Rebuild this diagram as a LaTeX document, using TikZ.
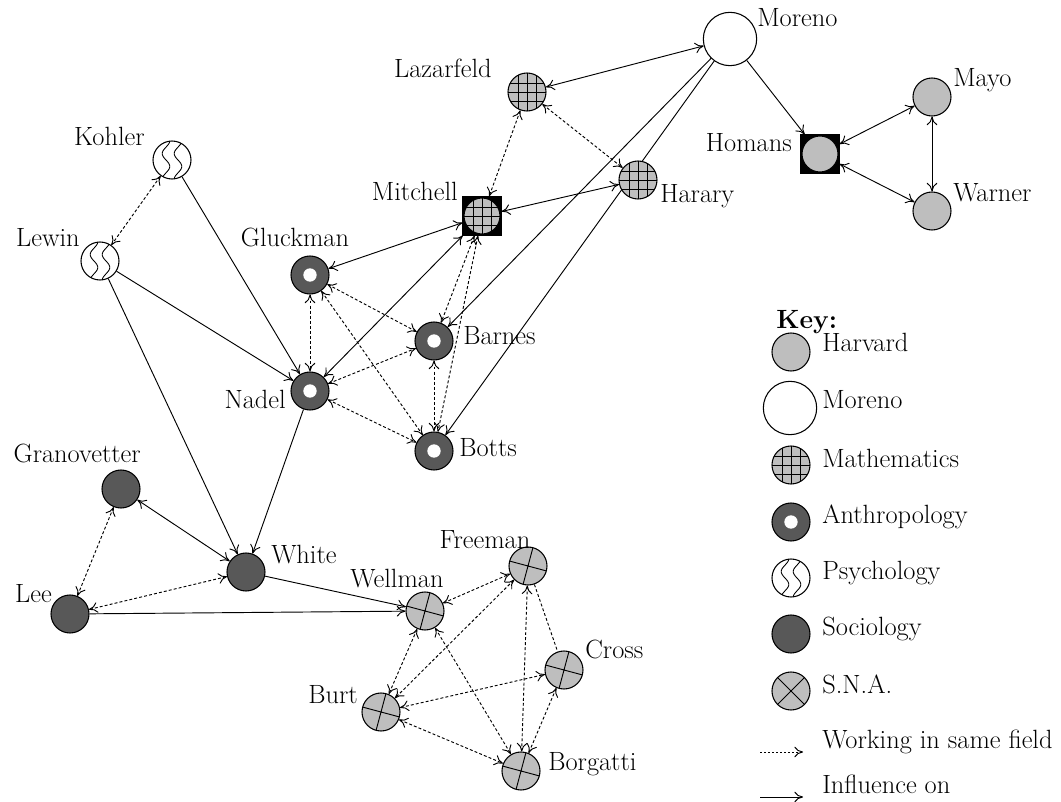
\documentclass[tikz,border=0pt]{standalone}
\usetikzlibrary{arrows.meta,backgrounds}
\definecolor{hv}{RGB}{190,190,190}
\definecolor{dk}{RGB}{88,88,88}
\begin{document}
\begin{tikzpicture}[x=0.75pt,y=-0.75pt,
  every node/.style={font=\fontsize{19.8}{22}\selectfont},
  ah/.tip={Computer Modern Rightarrow[length=6.5pt,width=8pt]},
  base/.style={circle,draw=black,line width=0.8pt,minimum size=28.5pt,inner sep=0pt},
  harvard/.style={base,fill=hv},
  morenost/.style={base,fill=white,minimum size=40pt},
  math/.style={base,fill=hv,path picture={
     \draw[line width=0.7pt,shift={(path picture bounding box.center)}]
       (-9,-20)--(-9,20) (0,-20)--(0,20) (9,-20)--(9,20)
       (-20,-9)--(20,-9) (-20,0)--(20,0) (-20,9)--(20,9);}},
  anthro/.style={base,fill=dk,path picture={
     \fill[white,shift={(path picture bounding box.center)}] (0,0) circle (5pt);}},
  psych/.style={base,fill=white,path picture={
     \draw[line width=0.65pt,shift={(path picture bounding box.center)}]
       plot[smooth,domain=-20:20,samples=30] ({-6+3.8*sin(\x*14)},{\x})
       plot[smooth,domain=-20:20,samples=30] ({6+3.8*sin(\x*14)},{\x});}},
  socio/.style={base,fill=dk},
  sna/.style={base,fill=hv,path picture={
     \draw[line width=0.7pt]
       (path picture bounding box.center) ++(#1:22) -- ++({#1+180}:44)
       (path picture bounding box.center) ++({#1+90}:22) -- ++({#1+270}:44);}},
  sna/.default=15,
  sq/.style={rectangle,fill=black,draw=black,minimum size=29pt,inner sep=0pt},
  inf/.style={line width=0.7pt,-ah},
  inf2/.style={line width=0.7pt,ah-ah},
  same/.style={line width=0.7pt,dash pattern=on 2.2pt off 1.6pt,ah-ah},
  plain/.style={line width=0.7pt,dash pattern=on 2.2pt off 1.6pt},
  lbl/.style={inner sep=0pt}
]
\useasboundingbox (0,0) rectangle (1061,802);

% nodes
\node[morenost] (Moreno) at (730,39) {};
\node[math] (Lazarfeld) at (527,92) {};
\node[sq] (Homans) at (820,154) {};
\node[harvard,minimum size=27pt] (HomansIn) at (Homans.center) {};
\node[harvard] (Mayo) at (932,97) {};
\node[harvard] (Warner) at (932,211) {};
\node[psych] (Kohler) at (172,160) {};
\node[sq] (Mitchell) at (482,216) {};
\node[math,minimum size=27pt] (MitchellIn) at (Mitchell.center) {};
\node[math] (Harary) at (638,180) {};
\node[psych] (Lewin) at (100,261) {};
\node[anthro] (Gluckman) at (310,275) {};
\node[anthro] (Barnes) at (434,341) {};
\node[anthro] (Nadel) at (310,391) {};
\node[anthro] (Botts) at (434,451) {};
\node[socio] (Granovetter) at (121,489) {};
\node[socio] (White) at (246,572) {};
\node[socio] (Lee) at (70,614) {};
\node[sna] (Wellman) at (425,611) {};
\node[sna] (Freeman) at (528,566) {};
\node[sna] (Cross) at (564,670) {};
\node[sna] (Burt) at (381,712) {};
\node[sna] (Borgatti) at (521,771) {};

% labels
\node[lbl,anchor=base west] (lMoreno) at (757,27) {Moreno};
\node[lbl,anchor=base east] (lLazarfeld) at (492,78) {Lazarfeld};
\node[lbl,anchor=base east] (lHomans) at (792,152) {Homans};
\node[lbl,anchor=base west] (lMayo) at (953,87) {Mayo};
\node[lbl,anchor=base west] (lWarner) at (953,202) {Warner};
\node[lbl,anchor=base east] (lKohler) at (145,146) {Kohler};
\node[lbl,anchor=base east] (lMitchell) at (458,201) {Mitchell};
\node[lbl,anchor=base west] (lHarary) at (660,203) {Harary};
\node[lbl,anchor=base east] (lLewin) at (80,247) {Lewin};
\node[lbl,anchor=base] (lGluckman) at (295,247) {Gluckman};
\node[lbl,anchor=base west] (lBarnes) at (463,345) {Barnes};
\node[lbl,anchor=base east] (lNadel) at (286,408) {Nadel};
\node[lbl,anchor=base west] (lBotts) at (459,456) {Botts};
\node[lbl,anchor=base east] (lGranovetter) at (141,462) {Granovetter};
\node[lbl,anchor=base west] (lWhite) at (271,563) {White};
\node[lbl,anchor=base east] (lLee) at (52,602) {Lee};
\node[lbl,anchor=base] (lWellman) at (397,587) {Wellman};
\node[lbl,anchor=base] (lFreeman) at (485,548) {Freeman};
\node[lbl,anchor=base west] (lCross) at (585,658) {Cross};
\node[lbl,anchor=base east] (lBurt) at (358,703) {Burt};
\node[lbl,anchor=base west] (lBorgatti) at (548,770) {Borgatti};

% connectors
\begin{scope}[on background layer]
% influence
\draw[inf2] (Lazarfeld) -- (Moreno);
\draw[inf] (Moreno) -- (Homans);
\draw[inf2] (Homans) -- (Mayo);
\draw[inf2] (Homans) -- (Warner);
\draw[inf2] (Mayo) -- (Warner);
\draw[inf] (Moreno) -- (Barnes);
\draw[inf] (Moreno) -- (Botts);
\draw[inf2] (Mitchell) -- (Harary);
\draw[inf2] (Mitchell) -- (Gluckman);
\draw[inf2] (Mitchell) -- (Nadel);
\draw[inf] (Kohler) -- (Nadel);
\draw[inf] (Lewin) -- (Nadel);
\draw[inf] (Lewin) -- (White);
\draw[inf] (Nadel) -- (White);
\draw[inf2] (Granovetter) -- (White);
\draw[inf] (White) -- (Wellman);
\draw[inf] (Lee) -- (Wellman);
% same field
\draw[same] (Kohler) -- (Lewin);
\draw[same] (Lazarfeld) -- (Mitchell);
\draw[same] (Lazarfeld) -- (Harary);
\draw[same] (Mitchell) -- (Barnes);
\draw[same] (Mitchell) -- (Botts);
\draw[same] (Gluckman) -- (Nadel);
\draw[same] (Gluckman) -- (Barnes);
\draw[same] (Gluckman) -- (Botts);
\draw[same] (Nadel) -- (Barnes);
\draw[same] (Nadel) -- (Botts);
\draw[same] (Barnes) -- (Botts);
\draw[same] (Granovetter) -- (Lee);
\draw[same] (Lee) -- (White);
\draw[same] (Wellman) -- (Freeman);
\draw[same] (Wellman) -- (Burt);
\draw[same] (Wellman) -- (Borgatti);
\draw[same] (Freeman) -- (Burt);
\draw[same] (Freeman) -- (Borgatti);
\draw[plain] (Freeman) -- (Cross);
\draw[same] (Burt) -- (Cross);
\draw[same] (Burt) -- (Borgatti);
\draw[same] (Cross) -- (Borgatti);
\end{scope}

% key
\node[lbl,anchor=base west,font={\fontsize{19.8}{22}\selectfont\bfseries}] (kKey) at (776,329) {Key:};
\node[harvard] (kHarvard) at (791,352) {};
\node[lbl,anchor=base west] (tHarvard) at (822,352) {Harvard};
\node[morenost] (kMoreno) at (790,408) {};
\node[lbl,anchor=base west] (tMoreno) at (822,409) {Moreno};
\node[math] (kMath) at (791,465) {};
\node[lbl,anchor=base west] (tMath) at (822,467) {Mathematics};
\node[anthro] (kAnthro) at (791,522) {};
\node[lbl,anchor=base west] (tAnthro) at (822,523) {Anthropology};
\node[psych] (kPsych) at (791,578) {};
\node[lbl,anchor=base west] (tPsych) at (822,579) {Psychology};
\node[socio] (kSocio) at (791,634) {};
\node[lbl,anchor=base west] (tSocio) at (822,635) {Sociology};
\node[sna=45] (kSNA) at (791,691) {};
\node[lbl,anchor=base west] (tSNA) at (822,693) {S.N.A.};
\coordinate (kW1) at (760,752);
\coordinate (kW2) at (803,752);
\draw[line width=0.7pt,dash pattern=on 1.5pt off 1.5pt,-ah] (kW1) -- (kW2);
\node[lbl,anchor=base west] (tW) at (822,748) {Working in same field};
\coordinate (kI1) at (760,797);
\coordinate (kI2) at (803,797);
\draw[inf] (kI1) -- (kI2);
\node[lbl,anchor=base west] (tI) at (822,793) {Influence on};
\end{tikzpicture}
\end{document}
